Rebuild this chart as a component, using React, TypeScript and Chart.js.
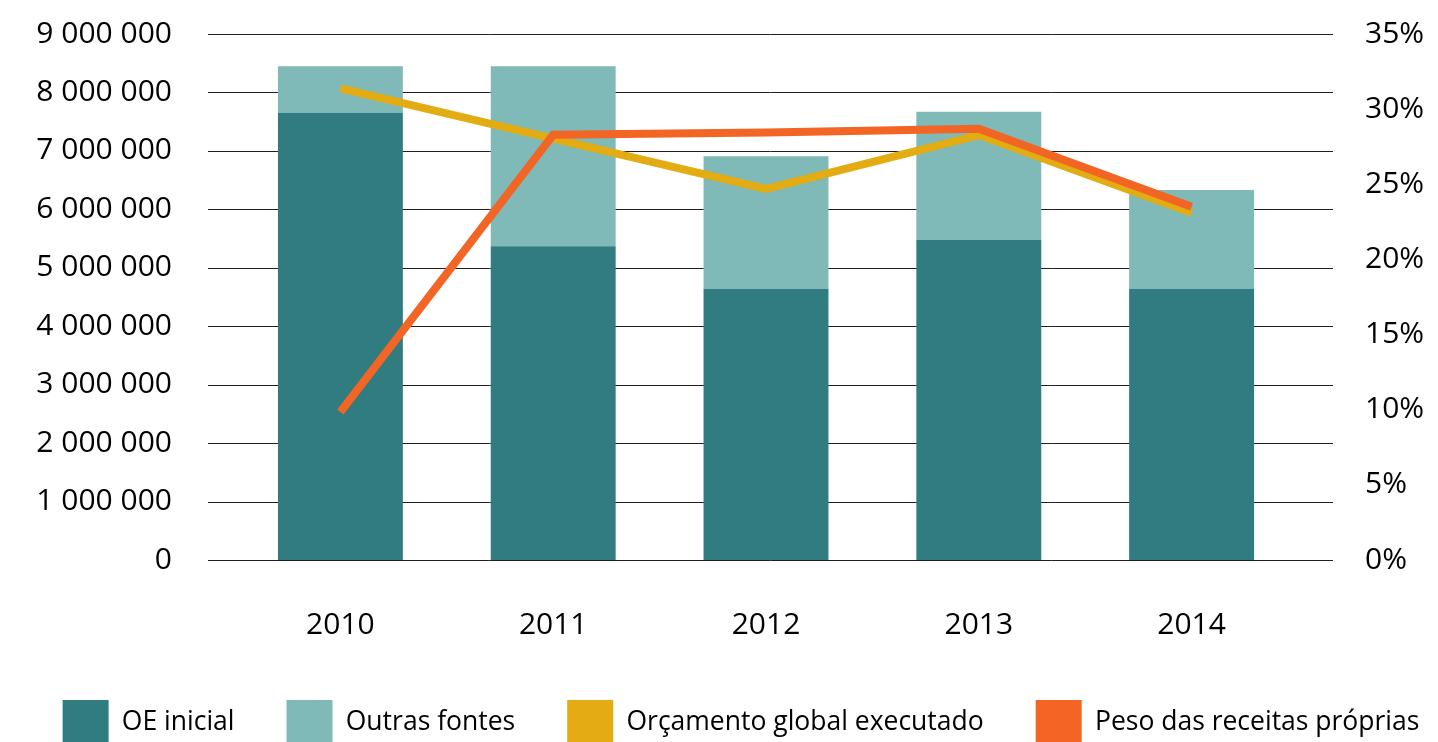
import React, { useEffect, useRef } from "react";
import { Chart, registerables } from "chart.js";

Chart.register(...registerables);

const years = ["2010", "2011", "2012", "2013", "2014"];
const oeInicial = [7650000, 5370000, 4640000, 5480000, 4640000];
const outrasFontes = [800000, 3080000, 2270000, 2190000, 1690000];
const orcamentoGlobal = [8070000, 7210000, 6350000, 7270000, 5940000];
const pesoReceitas = [9.85, 28.3, 28.45, 28.7, 23.5];

const leftTicksMax = 9000000;
const rightTicksMax = 35;

const COLORS = {
  oe: "#317c80",
  outras: "#7fb9b8",
  orc: "#e2ac12",
  peso: "#f26524",
  grid: "#231f20",
};

const fmtThousands = (v: number) =>
  String(Math.round(v)).replace(/\B(?=(\d{3})+(?!\d))/g, " ");

const extendedGrid = {
  id: "extendedGrid",
  beforeDatasetsDraw(chart: any) {
    const { ctx, chartArea } = chart;
    const scale = chart.scales.y;
    ctx.save();
    ctx.strokeStyle = COLORS.grid;
    ctx.lineWidth = 1;
    scale.ticks.forEach((t: any) => {
      const y = Math.round(scale.getPixelForValue(t.value)) + 0.5;
      ctx.beginPath();
      ctx.moveTo(chartArea.left - 26, y);
      ctx.lineTo(chartArea.right + 35, y);
      ctx.stroke();
    });
    ctx.restore();
  },
};

const noPad = (s: any) => {
  s.paddingTop = 0;
  s.paddingBottom = 0;
  s.paddingLeft = 0;
  s.paddingRight = 0;
};

export default function App() {
  const ref = useRef<HTMLCanvasElement | null>(null);
  useEffect(() => {
    if (!ref.current) return;
    Chart.defaults.font.family = "'Open Sans', sans-serif";
    Chart.defaults.color = "#000";
    const barCommon = { barPercentage: 0.587, categoryPercentage: 1 };
    const defaultLabels = Chart.defaults.plugins.legend.labels.generateLabels;
    const chart = new Chart(ref.current, {
      type: "bar",
      data: {
        labels: years,
        datasets: [
          {
            type: "bar",
            label: "OE inicial",
            data: oeInicial,
            yAxisID: "y",
            stack: "bars",
            backgroundColor: COLORS.oe,
            ...barCommon,
            order: 2,
          } as any,
          {
            type: "bar",
            label: "Outras fontes",
            data: outrasFontes,
            yAxisID: "y",
            stack: "bars",
            backgroundColor: COLORS.outras,
            ...barCommon,
            order: 3,
          } as any,
          {
            type: "line",
            label: "Orçamento global executado",
            data: orcamentoGlobal,
            yAxisID: "y",
            stack: "line",
            borderColor: COLORS.orc,
            backgroundColor: COLORS.orc,
            borderWidth: 8,
            pointRadius: 0,
            borderCapStyle: "butt",
            borderJoinStyle: "miter",
            tension: 0,
            order: 1,
          } as any,
          {
            type: "line",
            label: "Peso das receitas próprias",
            data: pesoReceitas,
            yAxisID: "y1",
            borderColor: COLORS.peso,
            backgroundColor: COLORS.peso,
            borderWidth: 8,
            pointRadius: 0,
            borderCapStyle: "butt",
            borderJoinStyle: "miter",
            tension: 0,
            order: 0,
          } as any,
        ],
      },
      options: {
        animation: false,
        responsive: true,
        maintainAspectRatio: false,
        layout: { padding: { top: 34, left: 0, right: -44, bottom: 0 } },
        plugins: {
          tooltip: { enabled: false },
          legend: {
            position: "bottom",
            maxHeight: 94,
            labels: {
              boxWidth: 46,
              boxHeight: 44,
              padding: 52,
              font: { size: 26.5 },
              color: "#000",
              generateLabels: (c: any) =>
                defaultLabels(c).map((it: any) => ({
                  ...it,
                  lineWidth: 0,
                  strokeStyle: "rgba(0,0,0,0)",
                })),
              sort: (a: any, b: any) => a.datasetIndex - b.datasetIndex,
            },
          } as any,
        },
        scales: {
          x: {
            stacked: true,
            grid: { display: false, drawTicks: false },
            border: { display: false },
            ticks: { padding: 47, font: { size: 30 }, color: "#000" },
            afterFit: (s: any) => {
              s.height = 88;
              noPad(s);
            },
          },
          y: {
            position: "left",
            stacked: true,
            min: 0,
            max: leftTicksMax,
            grid: { display: false, drawTicks: false },
            border: { display: false },
            ticks: {
              stepSize: 1000000,
              padding: 62,
              font: { size: 30 },
              color: "#000",
              callback: (v: any) => fmtThousands(Number(v)),
            },
            afterFit: (s: any) => {
              s.width = 234;
              noPad(s);
            },
          },
          y1: {
            position: "right",
            min: 0,
            max: rightTicksMax,
            grid: { display: false, drawTicks: false },
            border: { display: false },
            ticks: {
              stepSize: 5,
              padding: 67,
              font: { size: 30 },
              color: "#000",
              callback: (v: any) => `${v}%`,
            },
            afterFit: (s: any) => {
              s.width = 184;
              noPad(s);
            },
          },
        },
      },
      plugins: [extendedGrid],
    });
    return () => chart.destroy();
  }, []);

  return (
    <div style={{ position: "fixed", left: 0, top: 0, width: 1438, height: 742, background: "#fff", overflow: "hidden" }}>
      <canvas ref={ref} />
    </div>
  );
}
